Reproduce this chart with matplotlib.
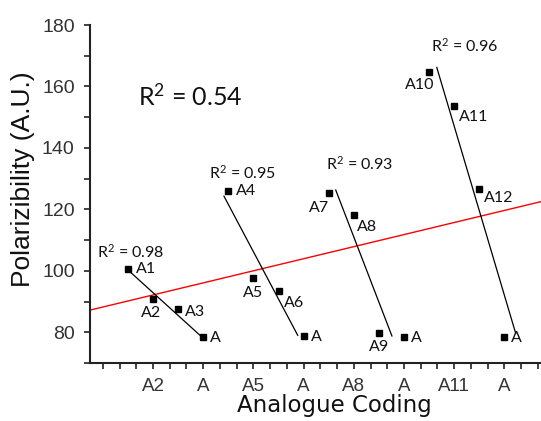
import numpy as np
import matplotlib
matplotlib.use("Agg")
import matplotlib.pyplot as plt

plt.rcParams["mathtext.fontset"] = "custom"
plt.rcParams["mathtext.rm"] = "Lato"
plt.rcParams["mathtext.it"] = "Lato"

# data
point_x = [2.5, 4, 5.5, 7, 8.5, 10, 11.5, 13, 14.5, 16, 17.5, 19, 20.5, 22, 23.5, 25]
point_y = [100.5, 90.8, 87.6, 78.6, 126.0, 97.7, 93.5, 78.7,
           125.4, 118.1, 79.8, 78.6, 164.7, 153.6, 126.5, 78.6]
point_names = ["A1", "A2", "A3", "A", "A4", "A5", "A6", "A",
               "A7", "A8", "A9", "A", "A10", "A11", "A12", "A"]

# group trend lines (start, end) as drawn in the picture
group_x = [(2.52, 6.81), (8.24, 12.65), (14.92, 18.28), (20.96, 25.68)]
group_y = [(100.2, 79.0), (124.3, 79.0), (126.3, 78.8), (166.2, 79.6)]
group_r2 = ["0.98", "0.95", "0.93", "0.96"]
r2_pos = [(0.65, 104.4), (7.36, 130.0), (14.32, 132.8), (20.6, 171.3)]

overall_r2 = "0.54"

tick_pos = [1, 4, 7, 10, 13, 16, 19, 22, 25]
tick_labels = ["", "A2", "A", "A5", "A", "A8", "A", "A11", "A"]

# label offsets in pixels (dx, dy, ha)
label_offsets = [(8, 0, "left"), (-2, -14, "center"), (7, -3, "left"), (7, -1, "left"),
                 (8, 0, "left"), (0, -15, "center"), (5, -12, "left"), (7, -1, "left"),
                 (0, -15, "right"), (3, -12, "left"), (0, -14, "center"), (7, -1, "left"),
                 (5, -13, "right"), (5, -11, "left"), (5, -9, "left"), (7, -1, "left")]

W, H = 541, 421
fig = plt.figure(figsize=(W / 100, H / 100), dpi=100)
ax = fig.add_axes([90 / W, 1 - 363 / H, 451 / W, 338 / H])

xmin, xmax = 0.233, 27.19
ax.set_xlim(xmin, xmax)
ax.set_ylim(70, 180)

# overall linear fit (red)
slope, icpt = np.polyfit(point_x, point_y, 1)
xx = np.array([xmin, xmax])
ax.plot(xx, slope * xx + icpt, color="red", lw=1.0, zorder=2)

for gx, gy in zip(group_x, group_y):
    ax.plot(gx, gy, color="black", lw=0.9, zorder=2)

ax.plot(point_x, point_y, "s", color="black", ms=4.3, zorder=3)

ann_font = dict(family="Lato", color="#111111")
for x, y, name, (dx, dy, ha) in zip(point_x, point_y, point_names, label_offsets):
    ax.annotate(name, (x, y), xytext=(dx * 0.72, dy * 0.72), textcoords="offset points",
                ha=ha, va="center", fontsize=11.5, **ann_font)

for (tx, ty), r2 in zip(r2_pos, group_r2):
    ax.text(tx, ty, "R$^{2}$ = " + r2, ha="left", va="baseline", fontsize=11.5, **ann_font)

ax.text(3.1, 153.9, "R$^{2}$ = " + overall_r2, ha="left", va="baseline", fontsize=18, **ann_font)

# axes styling
for s in ["top", "right"]:
    ax.spines[s].set_visible(False)
for s in ["left", "bottom"]:
    ax.spines[s].set_linewidth(1.5)
    ax.spines[s].set_color("#222222")

ax.set_xticks(tick_pos)
ax.set_xticklabels(tick_labels, family="Liberation Sans", fontsize=13.5, color="#333333")
ax.set_xticks(np.arange(1, 28), minor=True)
ax.set_yticks(np.arange(80, 181, 20))
ax.set_yticks(np.arange(70, 181, 10), minor=True)
for lbl in ax.get_yticklabels():
    lbl.set_family("Liberation Sans")
    lbl.set_fontsize(14)
    lbl.set_color("#333333")
ax.tick_params(axis="both", which="both", direction="out", length=4, width=1.2, color="#222222")
ax.tick_params(axis="x", pad=7)
ax.tick_params(axis="y", pad=7)

ax.set_ylabel("Polarizibility (A.U.)", family="Liberation Sans", fontsize=19, color="#111111")
ax.yaxis.label.set_va("center")
ax.yaxis.set_label_coords(-0.1475, 0.544)
ax.set_xlabel("Analogue Coding", family="DejaVu Sans", fontsize=16.5, color="#111111")
ax.xaxis.label.set_va("center")
ax.xaxis.set_label_coords(0.541, -0.127)

fig.savefig("out.png", dpi=100)
